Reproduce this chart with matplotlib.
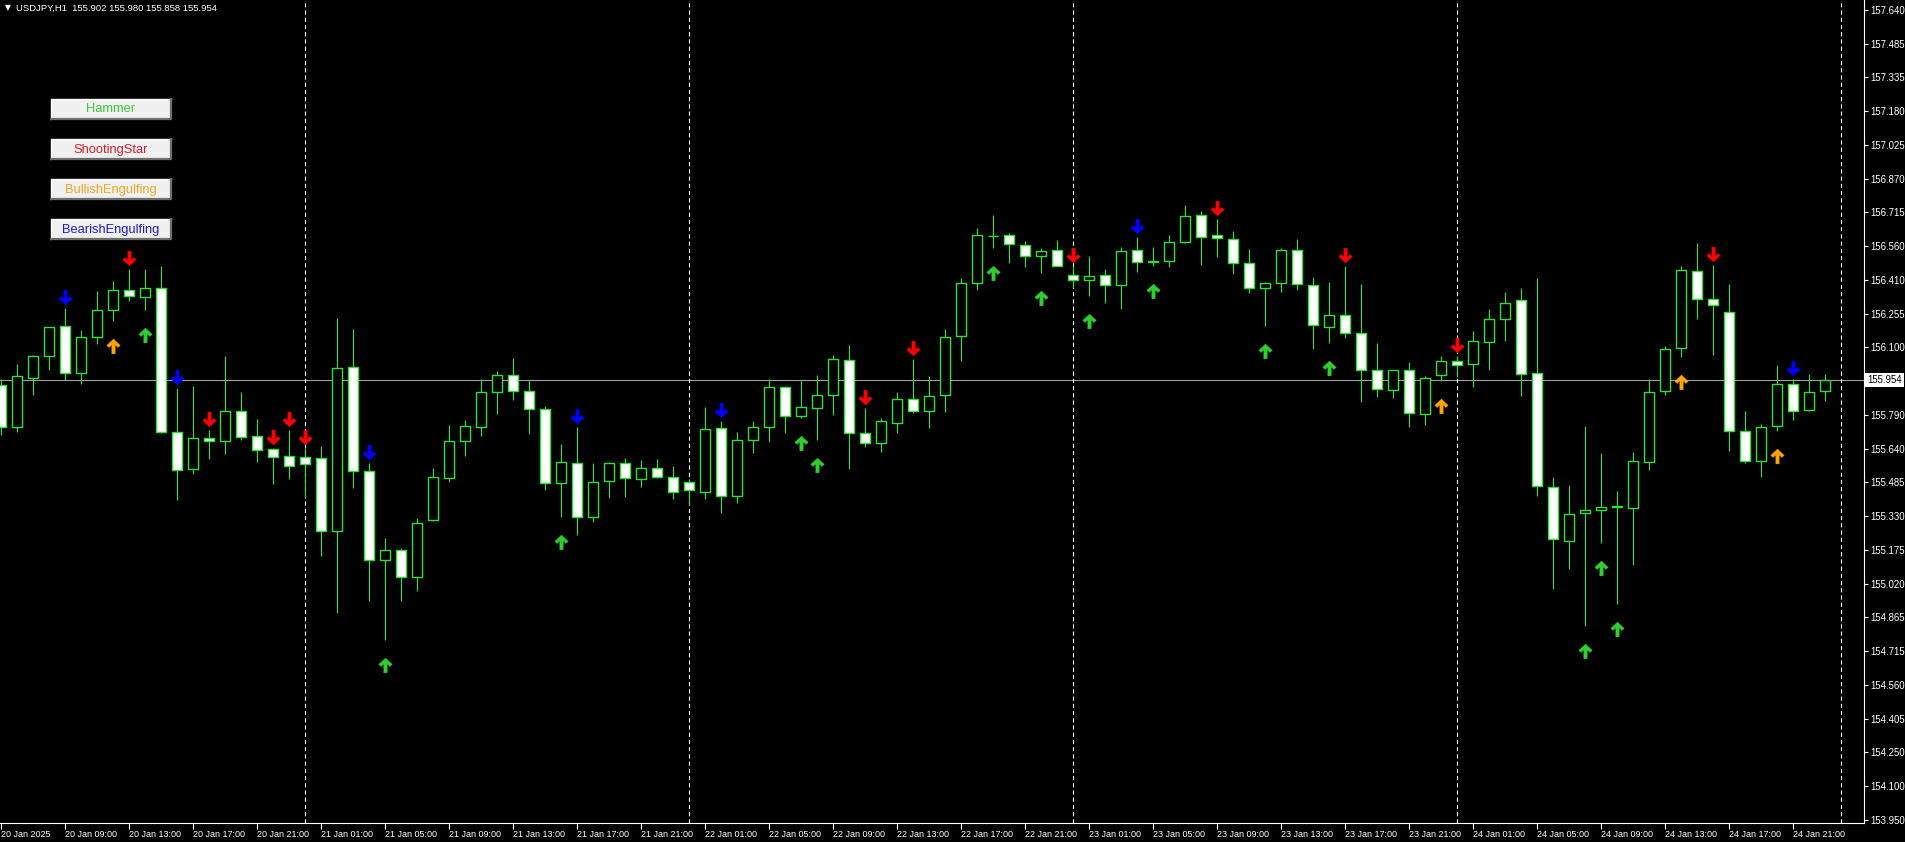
"""Recreate the MT4 USDJPY H1 candlestick chart with pattern arrows."""

import matplotlib

matplotlib.use("Agg")
import matplotlib.pyplot as plt
import matplotlib.transforms as mtransforms
import numpy as np
import pandas as pd
from matplotlib.lines import Line2D
from matplotlib.patches import Rectangle
from matplotlib.path import Path

W, H = 1905, 842
BG = "#000000"
CANDLE = "#2ee02e"

# hourly bars, 20 Jan 2025 05:00 .. 24 Jan 2025 23:00
opens = [155.933, 155.740, 155.963, 156.063, 156.198, 155.986, 156.150, 156.272, 156.363, 156.331,
         156.375, 155.718, 155.549, 155.690, 155.677, 155.813, 155.698, 155.640, 155.607, 155.604,
         155.599, 155.266, 156.013, 155.539, 155.134, 155.181, 155.058, 155.316, 155.508, 155.678,
         155.740, 155.899, 155.977, 155.904, 155.822, 155.486, 155.577, 155.331, 155.493, 155.577,
         155.504, 155.554, 155.513, 155.490, 155.445, 155.736, 155.427, 155.681, 155.740, 155.922,
         155.789, 155.827, 155.886, 156.045, 155.713, 155.668, 155.758, 155.868, 155.812, 155.886,
         156.153, 156.395, 156.608, 156.613, 156.571, 156.519, 156.545, 156.434, 156.410, 156.434,
         156.386, 156.545, 156.492, 156.494, 156.582, 156.704, 156.613, 156.598, 156.486, 156.372,
         156.395, 156.544, 156.389, 156.195, 156.248, 156.168, 155.998, 155.907, 155.998, 155.799,
         155.977, 156.039, 156.027, 156.125, 156.231, 156.318, 155.984, 155.467, 155.220, 155.349,
         155.363, 155.376, 155.372, 155.581, 155.902, 156.100, 156.450, 156.322, 156.262, 155.722,
         155.586, 155.743, 155.936, 155.816, 155.902]
highs = [155.959, 156.028, 156.069, 156.197, 156.281, 156.183, 156.360, 156.406, 156.460, 156.460,
         156.474, 155.918, 155.928, 155.728, 156.065, 155.901, 155.778, 155.645, 155.725, 155.645,
         155.655, 156.236, 156.187, 155.577, 155.236, 155.190, 155.327, 155.554, 155.751, 155.774,
         155.960, 155.996, 156.056, 155.952, 155.837, 155.664, 155.739, 155.574, 155.581, 155.598,
         155.589, 155.596, 155.560, 155.501, 155.831, 155.765, 155.718, 155.765, 155.959, 155.928,
         155.952, 155.978, 156.069, 156.115, 155.827, 155.781, 155.901, 156.051, 155.974, 156.187,
         156.418, 156.645, 156.706, 156.622, 156.585, 156.554, 156.592, 156.474, 156.519, 156.459,
         156.559, 156.604, 156.559, 156.615, 156.751, 156.724, 156.688, 156.633, 156.551, 156.400,
         156.554, 156.595, 156.422, 156.400, 156.474, 156.391, 156.122, 156.000, 156.036, 155.974,
         156.065, 156.062, 156.178, 156.277, 156.356, 156.372, 156.418, 155.513, 155.474, 155.746,
         155.622, 155.449, 155.627, 155.959, 156.110, 156.474, 156.580, 156.478, 156.392, 155.815,
         155.755, 156.024, 155.959, 155.983, 155.980]
lows = [155.705, 155.719, 155.884, 156.001, 155.952, 155.937, 156.119, 156.221, 156.312, 156.271,
        155.713, 155.407, 155.524, 155.595, 155.616, 155.680, 155.580, 155.478, 155.504, 155.417,
        155.152, 154.894, 155.463, 154.947, 154.770, 154.947, 154.993, 155.311, 155.489, 155.607,
        155.698, 155.801, 155.862, 155.707, 155.452, 155.329, 155.248, 155.307, 155.416, 155.420,
        155.466, 155.508, 155.413, 155.384, 155.413, 155.349, 155.393, 155.622, 155.671, 155.713,
        155.780, 155.680, 155.793, 155.549, 155.648, 155.625, 155.713, 155.804, 155.734, 155.807,
        156.039, 156.365, 156.554, 156.489, 156.468, 156.441, 156.474, 156.372, 156.337, 156.307,
        156.277, 156.444, 156.474, 156.471, 156.580, 156.478, 156.516, 156.438, 156.350, 156.198,
        156.357, 156.362, 156.095, 156.122, 156.145, 155.854, 155.877, 155.872, 155.740, 155.751,
        155.948, 155.968, 155.922, 155.998, 156.130, 155.880, 155.425, 155.004, 155.092, 154.834,
        155.213, 154.932, 155.111, 155.543, 155.887, 156.057, 156.234, 156.069, 155.630, 155.574,
        155.511, 155.721, 155.771, 155.811, 155.858]
closes = [155.740, 155.972, 156.063, 156.195, 155.986, 156.150, 156.272, 156.363, 156.337, 156.375,
          155.719, 155.546, 155.690, 155.677, 155.813, 155.695, 155.637, 155.604, 155.560, 155.572,
          155.266, 156.009, 155.539, 155.134, 155.181, 155.058, 155.304, 155.513, 155.678, 155.745,
          155.899, 155.977, 155.904, 155.822, 155.486, 155.581, 155.331, 155.490, 155.577, 155.508,
          155.554, 155.513, 155.445, 155.455, 155.731, 155.427, 155.681, 155.740, 155.922, 155.792,
          155.831, 155.886, 156.050, 155.713, 155.668, 155.765, 155.868, 155.812, 155.883, 156.150,
          156.395, 156.615, 156.612, 156.574, 156.519, 156.541, 156.474, 156.410, 156.430, 156.386,
          156.541, 156.492, 156.494, 156.583, 156.701, 156.607, 156.600, 156.486, 156.372, 156.395,
          156.545, 156.391, 156.206, 156.248, 156.168, 155.998, 155.913, 155.999, 155.804, 155.963,
          156.039, 156.024, 156.130, 156.231, 156.307, 155.981, 155.470, 155.231, 155.345, 155.363,
          155.377, 155.378, 155.587, 155.899, 156.095, 156.454, 156.322, 156.295, 155.722, 155.586,
          155.740, 155.936, 155.813, 155.899, 155.954]

# bars flagged by the pattern indicator
hammer_idx = [9, 24, 35, 50, 51, 62, 65, 68, 72, 79, 83, 99, 100, 101]
shooting_star_idx = [8, 13, 17, 18, 19, 54, 57, 67, 76, 84, 91, 107]
bull_engulf_idx = [7, 90, 105, 111]
bear_engulf_idx = [4, 11, 23, 36, 45, 71, 112]

price_tick_labels = ["157.640", "157.485", "157.335", "157.180", "157.025", "156.870", "156.715",
                     "156.560", "156.410", "156.255", "156.100", "", "155.790", "155.640", "155.485",
                     "155.330", "155.175", "155.020", "154.865", "154.715", "154.560", "154.405",
                     "154.250", "154.100", "153.950"]
bid_price = 155.954
title = "USDJPY,H1  155.902 155.980 155.858 155.954"

buttons = [("Hammer", "#3cc83c"), ("ShootingStar", "#dc1e28"),
           ("BullishEngulfing", "#f5a623"), ("BearishEngulfing", "#1e1ec8")]

UP_ARROW = Path([(0, 1), (0.9, 0.15), (0.6, -0.12), (0.22, 0.26), (0.22, -1), (-0.22, -1),
                 (-0.22, 0.26), (-0.6, -0.12), (-0.9, 0.15), (0, 1)], closed=True)
DOWN_ARROW = Path(UP_ARROW.vertices * np.array([1, -1]), UP_ARROW.codes)


def draw_candles(ax, o, h, l, c):
    x = np.arange(len(o))
    ax.vlines(x, l, h, color=CANDLE, lw=0.8, zorder=2)
    up = c > o
    dn = ~up
    ax.bar(x[up], c[up] - o[up], bottom=o[up], width=0.64, color=BG,
           edgecolor=CANDLE, linewidth=1.0, zorder=3)
    ax.bar(x[dn], o[dn] - c[dn], bottom=c[dn], width=0.64, color="white",
           edgecolor=CANDLE, linewidth=1.0, zorder=3)


def draw_signals(ax, h, l, px):
    groups = [
        (hammer_idx, "#32cd32", UP_ARROW),
        (shooting_star_idx, "#ff0000", DOWN_ARROW),
        (bull_engulf_idx, "#ffa500", UP_ARROW),
        (bear_engulf_idx, "#0000ff", DOWN_ARROW),
    ]
    for idx, color, marker in groups:
        idx = np.array(idx)
        if marker is UP_ARROW:
            y = l[idx] - 25 * px
        else:
            y = h[idx] + 11 * px
        ax.plot(idx, y, ls="none", marker=marker, ms=10.5, color=color, mec=color, mew=0.4, zorder=5)


def draw_buttons(fig):
    x0, bw, bh = 51, 120, 20
    for k, (label, color) in enumerate(buttons):
        top = 99 + 40 * k
        y0 = 1 - (top + bh) / H
        fig.add_artist(Rectangle((x0 / W, y0), bw / W, bh / H, transform=fig.transFigure,
                                 facecolor="#f0f0f0", edgecolor="none", zorder=10))
        fig.add_artist(Line2D([x0 / W, x0 / W, (x0 + bw) / W], [y0, 1 - top / H, 1 - top / H],
                              transform=fig.transFigure, color="#ffffff", lw=1.0, zorder=11))
        fig.add_artist(Line2D([x0 / W, (x0 + bw) / W, (x0 + bw) / W], [y0, y0, 1 - top / H],
                              transform=fig.transFigure, color="#6e6e6e", lw=1.6, zorder=11))
        fig.text((x0 + bw / 2) / W, 1 - (top + bh / 2 + 0.5) / H, label, color=color,
                 ha="center", va="center", fontsize=9.3, zorder=12)


def main():
    plt.rcParams["font.family"] = ["Liberation Sans", "DejaVu Sans"]
    plt.rcParams["lines.scale_dashes"] = False

    o, h, l, c = (np.array(v) for v in (opens, highs, lows, closes))
    times = pd.date_range("2025-01-20 05:00", periods=len(o), freq="h")

    fig = plt.figure(figsize=(W / 100, H / 100), dpi=100, facecolor=BG)
    ax_h = 823
    ax = fig.add_axes([0, (H - ax_h) / H, 1864 / W, ax_h / H], facecolor=BG)

    # 16 px per bar, bid line 155.954 sits at y=380 px, 219.5 px per yen
    ax.set_xlim(-1 / 16, 1863 / 16)
    ymax = bid_price + 380 / 219.5
    ymin = bid_price - (ax_h - 380) / 219.5
    ax.set_ylim(ymin, ymax)
    px = (ymax - ymin) / ax_h

    ax.axhline(bid_price, color="#a0a0a0", lw=0.8, zorder=1)
    seps = [i for i, t in enumerate(times) if t.hour == 0] + [len(times)]
    for s in seps:
        ax.axvline(s, color="white", lw=0.8, ls=(0, (3, 2.2)), zorder=1)

    draw_candles(ax, o, h, l, c)
    draw_signals(ax, h, l, px)

    # price scale on the right
    ax.yaxis.tick_right()
    ax.set_yticks(np.linspace(157.640, 153.950, len(price_tick_labels)))
    ax.set_yticklabels(price_tick_labels)
    ax.tick_params(axis="y", colors="white", length=3, width=0.8, labelsize=6.9, pad=1.2)

    # time scale every 4 hours
    xt = list(range(0, len(times), 4))
    xl = ["20 Jan 2025" if i == 0 else f"{times[i].day} {times[i]:%b %H:%M}" for i in xt]
    ax.set_xticks(xt)
    ax.set_xticklabels(xl)
    ax.tick_params(axis="x", colors="white", length=4, width=0.8, labelsize=6.5, pad=1)
    for lbl in ax.get_xticklabels():
        lbl.set_ha("left")

    for side in ("top", "left"):
        ax.spines[side].set_visible(False)
    for side in ("right", "bottom"):
        ax.spines[side].set_color("white")
        ax.spines[side].set_linewidth(0.8)

    trans = mtransforms.blended_transform_factory(ax.transAxes, ax.transData)
    ax.text(1.0 + 3 / 1864, bid_price, f"{bid_price:.3f}", transform=trans, ha="left", va="center",
            fontsize=6.9, color="black", zorder=6, clip_on=False,
            bbox=dict(boxstyle="square,pad=0.2", facecolor="white", edgecolor="none"))

    fig.text(5 / W, 1 - 8 / H, "\u25bc", color="white", fontsize=5.5, va="center",
             family="DejaVu Sans")
    fig.text(16 / W, 1 - 8 / H, title, color="white", fontsize=6.8, va="center")

    draw_buttons(fig)

    fig.savefig("out.png", dpi=100, facecolor=BG)
    plt.close(fig)


if __name__ == "__main__":
    main()
